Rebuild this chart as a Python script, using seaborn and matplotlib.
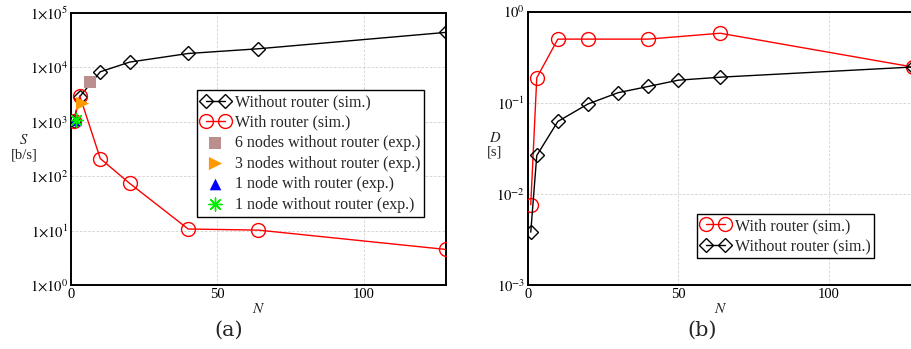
import matplotlib
matplotlib.use("Agg")
import matplotlib.pyplot as plt
import matplotlib.ticker as mticker
import seaborn as sns
import pandas as pd
import numpy as np

# ---------------- data ----------------
N_sim_a = [1, 3, 10, 20, 40, 64, 128]
S_without = [1050, 2900, 8300, 12500, 18000, 22000, 44000]
S_with = [1050, 3000, 211, 74, 10.7, 10.2, 4.5]

exp_labels = ["6 nodes without router (exp.)", "3 nodes without router (exp.)",
              "1 node with router (exp.)", "1 node without router (exp.)"]
exp_N = [6.5, 3.8, 1.5, 1.6]
exp_S = [5300, 2200, 1100, 1080]

N_with_b = [1, 3, 10, 20, 40, 64, 128]
D_with = [0.0076, 0.188, 0.50, 0.50, 0.50, 0.58, 0.247]
N_without_b = [1, 3, 10, 20, 30, 40, 50, 64, 128]
D_without = [0.0038, 0.0264, 0.0624, 0.097, 0.129, 0.151, 0.177, 0.191, 0.247]

# ---------------- style ----------------
sns.set_theme(style="whitegrid")
plt.rcParams["font.family"] = ["Liberation Serif", "DejaVu Serif"]
plt.rcParams["mathtext.fontset"] = "stix"

fig = plt.figure(figsize=(9.11, 3.49), dpi=100)
axA = fig.add_axes([0.0779, 0.1834, 0.4117, 0.7794])
axB = fig.add_axes([0.5793, 0.1834, 0.4227, 0.7831])

def style_axes(ax):
    ax.set_facecolor("white")
    for s in ax.spines.values():
        s.set_color("black")
        s.set_linewidth(1.4)
    ax.grid(True, which="major", color="#d0d0d0", linestyle=(0, (3, 2)), linewidth=0.6)
    ax.grid(False, which="minor")
    ax.tick_params(which="both", length=0, pad=2, labelsize=10.5, colors="black")
    ax.minorticks_off()

leg_kw = dict(numpoints=2, fontsize=11.5, frameon=True, fancybox=False,
              edgecolor="black", framealpha=1, borderpad=0.25, labelspacing=0.28,
              handlelength=1.8, handletextpad=0.3, borderaxespad=0)

# ---------------- panel (a) ----------------
dfa1 = pd.DataFrame({"N": N_sim_a, "S": S_without})
dfa2 = pd.DataFrame({"N": N_sim_a, "S": S_with})
sns.lineplot(data=dfa1, x="N", y="S", ax=axA, color="black", lw=1.0, marker="D",
             markersize=7, mfc="none", mec="black", mew=1.0,
             label="Without router (sim.)", zorder=3)
sns.lineplot(data=dfa2, x="N", y="S", ax=axA, color="red", lw=1.0, marker="o",
             markersize=10, mfc="none", mec="red", mew=1.0,
             label="With router (sim.)", zorder=3)
exp_markers = ["s", ">", "^", (8, 2, 0)]
exp_colors = ["#bc8f8f", "#ff9900", "#0000ff", "#00ee00"]
exp_sizes = [80, 90, 70, 90]
for lab, n, s, m, c, sz in zip(exp_labels, exp_N, exp_S, exp_markers, exp_colors, exp_sizes):
    sns.scatterplot(x=[n], y=[s], ax=axA, marker=m, color=c, s=sz,
                    linewidth=1.0 if m == (8, 2, 0) else 0, edgecolor=c,
                    label=lab, zorder=4)
axA.set_yscale("log")
axA.set_xlim(0, 128)
axA.set_ylim(1, 1e5)
axA.set_xticks([0, 50, 100])
axA.set_yticks([1, 10, 100, 1e3, 1e4, 1e5])
axA.yaxis.set_major_formatter(mticker.FuncFormatter(
    lambda v, p: r"$1{\times}10^{%d}$" % int(round(np.log10(v)))))
style_axes(axA)
axA.set_xlabel(r"$N$", fontsize=11, labelpad=1)
axA.set_ylabel("$S$\n[b/s]", rotation=0, fontsize=10.5, va="center", ha="center",
               linespacing=1.1)
axA.yaxis.set_label_coords(-0.125, 0.507)
axA.legend(loc="upper left", bbox_to_anchor=(0.336, 0.716), **leg_kw
           ).get_frame().set_linewidth(1.0)

# ---------------- panel (b) ----------------
dfb1 = pd.DataFrame({"N": N_with_b, "D": D_with})
dfb2 = pd.DataFrame({"N": N_without_b, "D": D_without})
sns.lineplot(data=dfb1, x="N", y="D", ax=axB, color="red", lw=1.0, marker="o",
             markersize=10, mfc="none", mec="red", mew=1.0,
             label="With router (sim.)", zorder=3)
sns.lineplot(data=dfb2, x="N", y="D", ax=axB, color="black", lw=1.0, marker="D",
             markersize=7, mfc="none", mec="black", mew=1.0,
             label="Without router (sim.)", zorder=3)
axB.set_yscale("log")
axB.set_xlim(0, 128)
axB.set_ylim(1e-3, 1)
axB.set_xticks([0, 50, 100])
axB.set_yticks([1e-3, 1e-2, 1e-1, 1])
axB.yaxis.set_major_formatter(mticker.FuncFormatter(
    lambda v, p: r"$10^{%d}$" % int(round(np.log10(v)))))
style_axes(axB)
axB.set_xlabel(r"$N$", fontsize=11, labelpad=1)
axB.set_ylabel("$D$\n[s]", rotation=0, fontsize=10.5, va="center", ha="center",
               linespacing=1.1)
axB.yaxis.set_label_coords(-0.085, 0.513)
axB.legend(loc="upper left", bbox_to_anchor=(0.44, 0.26), **leg_kw
           ).get_frame().set_linewidth(1.0)

fig.text(229 / 911, 1 - 330 / 349, "(a)", ha="center", va="center", fontsize=15,
         family="DejaVu Serif")
fig.text(702 / 911, 1 - 330 / 349, "(b)", ha="center", va="center", fontsize=15,
         family="DejaVu Serif")

fig.savefig("out.png", dpi=100)
